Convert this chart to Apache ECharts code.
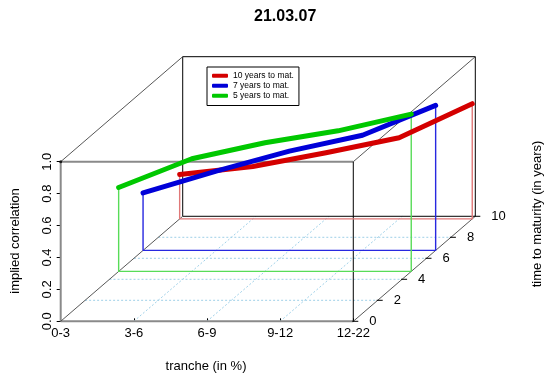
<!DOCTYPE html>
<html>
<head>
<meta charset="utf-8">
<script src="https://cdn.jsdelivr.net/npm/echarts@6/dist/echarts.min.js"></script>
<style>
  html, body { margin: 0; padding: 0; background: #fff; }
  #chart { width: 550px; height: 373px; }
</style>
</head>
<body>
<div id="chart"></div>
<script>
// data
const tranches = ['0-3', '3-6', '6-9', '9-12', '12-22']
const corrTicks = [0, 0.2, 0.4, 0.6, 0.8, 1.0]
const maturityTicks = [0, 2, 4, 6, 8, 10]
const seriesNames = ['10 years to mat.', '7 years to mat.', '5 years to mat.']
const seriesMaturity = [9.75, 6.75, 4.75]
const corr10y = [0.278, 0.328, 0.415, 0.509, 0.722]
const corr7y = [0.36, 0.497, 0.622, 0.722, 0.909]
const corr5y = [0.526, 0.706, 0.806, 0.881, 0.986]

const seriesCorr = [corr10y, corr7y, corr5y]
const lineColors = ['#d40000', '#0000d8', '#00c800']
const dropColors = ['#e07878', '#2828e0', '#58dc58']
const FONT = 'Liberation Sans, Arial, sans-serif'

// oblique projection of the depth (maturity) axis onto the 2d grid
const DX = 0.1668 // tranche units per year
const DY = 0.0658 // correlation units per year
const T_MAX = tranches.length - 1
const D_MAX = maturityTicks[maturityTicks.length - 1]
const Z_MAX = corrTicks[corrTicks.length - 1]
function proj(t, d, z) {
  return [t + d * DX, z + d * DY]
}

// box edges: [t0, d0, z0, t1, d1, z1, style]  style 0 = gray axis, 1 = black, 2 = diagonal
const boxEdges = [
  [0, 0, 0, T_MAX, 0, 0, 0],
  [0, 0, 0, 0, 0, Z_MAX, 0],
  [0, 0, Z_MAX, T_MAX, 0, Z_MAX, 0],
  [T_MAX, 0, 0, T_MAX, 0, Z_MAX, 1],
  [0, D_MAX, 0, T_MAX, D_MAX, 0, 1],
  [0, D_MAX, Z_MAX, T_MAX, D_MAX, Z_MAX, 1],
  [0, D_MAX, 0, 0, D_MAX, Z_MAX, 1],
  [T_MAX, D_MAX, 0, T_MAX, D_MAX, Z_MAX, 1],
  [0, 0, 0, 0, D_MAX, 0, 2],
  [0, 0, Z_MAX, 0, D_MAX, Z_MAX, 2],
  [T_MAX, 0, Z_MAX, T_MAX, D_MAX, Z_MAX, 2],
  [T_MAX, 0, 0, T_MAX, D_MAX, 0, 2],
]
const edgeStyles = [
  { stroke: '#8a8a8a', lineWidth: 2 },
  { stroke: '#000', lineWidth: 1 },
  { stroke: '#444', lineWidth: 0.9 },
]

// floor grid: [t0, d0, t1, d1]
const floorLines = []
maturityTicks.slice(1, -1).forEach((d) => floorLines.push([0, d, T_MAX, d]))
tranches.slice(1, -1).forEach((_, i) => floorLines.push([i + 1, 0, i + 1, D_MAX]))

const myChart = echarts.init(document.getElementById('chart'))

const series = []

series.push({
  type: 'custom',
  name: 'floor',
  silent: true,
  z: 1,
  data: floorLines,
  renderItem(params, api) {
    const p0 = api.coord(proj(api.value(0), api.value(1), 0))
    const p1 = api.coord(proj(api.value(2), api.value(3), 0))
    return {
      type: 'line',
      shape: { x1: p0[0], y1: p0[1], x2: p1[0], y2: p1[1] },
      style: { stroke: '#9fd0e8', lineWidth: 1, lineDash: [2, 2] },
    }
  },
})

series.push({
  type: 'custom',
  name: 'box',
  silent: true,
  z: 2,
  data: boxEdges,
  renderItem(params, api) {
    const p0 = api.coord(proj(api.value(0), api.value(1), api.value(2)))
    const p1 = api.coord(proj(api.value(3), api.value(4), api.value(5)))
    return {
      type: 'line',
      shape: { x1: p0[0], y1: p0[1], x2: p1[0], y2: p1[1] },
      style: edgeStyles[api.value(6)],
    }
  },
})

// drop lines: first point down to the floor, along the floor, up to last point
seriesCorr.forEach((corr, k) => {
  const d = seriesMaturity[k]
  series.push({
    type: 'line',
    silent: true,
    z: 3,
    symbol: 'none',
    lineStyle: { color: dropColors[k], width: 1.4 },
    data: [
      proj(0, d, corr[0]),
      proj(0, d, 0),
      proj(T_MAX, d, 0),
      proj(T_MAX, d, corr[T_MAX]),
    ],
  })
})

seriesCorr.forEach((corr, k) => {
  const d = seriesMaturity[k]
  series.push({
    type: 'line',
    name: seriesNames[k],
    z: 4,
    symbol: 'none',
    color: lineColors[k],
    lineStyle: { color: lineColors[k], width: 5, cap: 'round', join: 'round' },
    data: corr.map((z, i) => proj(i, d, z)),
  })
})

// maturity axis along the right floor edge
series.push({
  type: 'custom',
  name: 'maturityAxis',
  silent: true,
  z: 5,
  data: maturityTicks,
  renderItem(params, api) {
    const d = api.value(0)
    const p = api.coord(proj(T_MAX, d, 0))
    return {
      type: 'group',
      children: [
        {
          type: 'line',
          shape: { x1: p[0] - 1, y1: p[1], x2: p[0] + 5, y2: p[1] },
          style: { stroke: '#000', lineWidth: 1 },
        },
        {
          type: 'text',
          x: p[0] + 16,
          y: p[1],
          style: {
            text: String(d),
            fill: '#000',
            font: '13px ' + FONT,
            align: 'left',
            verticalAlign: 'middle',
          },
        },
      ],
    }
  },
})

// corner dot
series.push({
  type: 'scatter',
  silent: true,
  z: 6,
  symbolSize: 3,
  itemStyle: { color: '#000' },
  data: [proj(0, 0, Z_MAX)],
})

const option = {
  animation: false,
  title: {
    text: '21.03.07',
    left: 249,
    top: 4,
    textStyle: { fontSize: 16, fontWeight: 'bold', color: '#000', fontFamily: FONT },
  },
  legend: {
    data: seriesNames,
    orient: 'vertical',
    left: 207,
    top: 67,
    padding: [4, 5, 5, 5],
    borderColor: '#000',
    borderWidth: 1,
    itemWidth: 16,
    itemHeight: 4,
    itemGap: 0.5,
    icon: 'roundRect',
    selectedMode: false,
    textStyle: { fontSize: 8.5, lineHeight: 9.5, color: '#000', fontFamily: FONT },
  },
  grid: {
    left: 60.7,
    right: 74.7,
    top: 56.7,
    bottom: 51.7,
    outerBoundsMode: 'none',
  },
  xAxis: {
    type: 'value',
    min: 0,
    max: T_MAX + D_MAX * DX,
    axisLine: { show: false },
    splitLine: { show: false },
    axisTick: {
      customValues: tranches.map((_, i) => i),
      inside: true,
      length: 3,
      lineStyle: { color: '#000' },
    },
    axisLabel: {
      customValues: tranches.map((_, i) => i),
      formatter: (v) => tranches[Math.round(v)],
      margin: 6,
      fontSize: 13,
      color: '#000',
      fontFamily: FONT,
    },
  },
  yAxis: {
    type: 'value',
    min: 0,
    max: Z_MAX + D_MAX * DY,
    axisLine: { show: false },
    splitLine: { show: false },
    axisTick: {
      customValues: corrTicks,
      length: 4,
      lineStyle: { color: '#000' },
    },
    axisLabel: {
      customValues: corrTicks,
      formatter: (v) => v.toFixed(1),
      rotate: 90,
      margin: 7,
      fontSize: 13,
      color: '#000',
      fontFamily: FONT,
    },
  },
  graphic: [
    {
      type: 'text',
      x: 15,
      y: 241,
      rotation: Math.PI / 2,
      style: { text: 'implied correlation', font: '13px ' + FONT, fill: '#000', align: 'center', verticalAlign: 'middle' },
    },
    {
      type: 'text',
      x: 206,
      y: 366,
      style: { text: 'tranche (in %)', font: '13px ' + FONT, fill: '#000', align: 'center', verticalAlign: 'middle' },
    },
    {
      type: 'text',
      x: 537,
      y: 214,
      rotation: Math.PI / 2,
      style: { text: 'time to maturity (in years)', font: '13px ' + FONT, fill: '#000', align: 'center', verticalAlign: 'middle' },
    },
  ],
  series: series,
}

myChart.setOption(option)
</script>
</body>
</html>
